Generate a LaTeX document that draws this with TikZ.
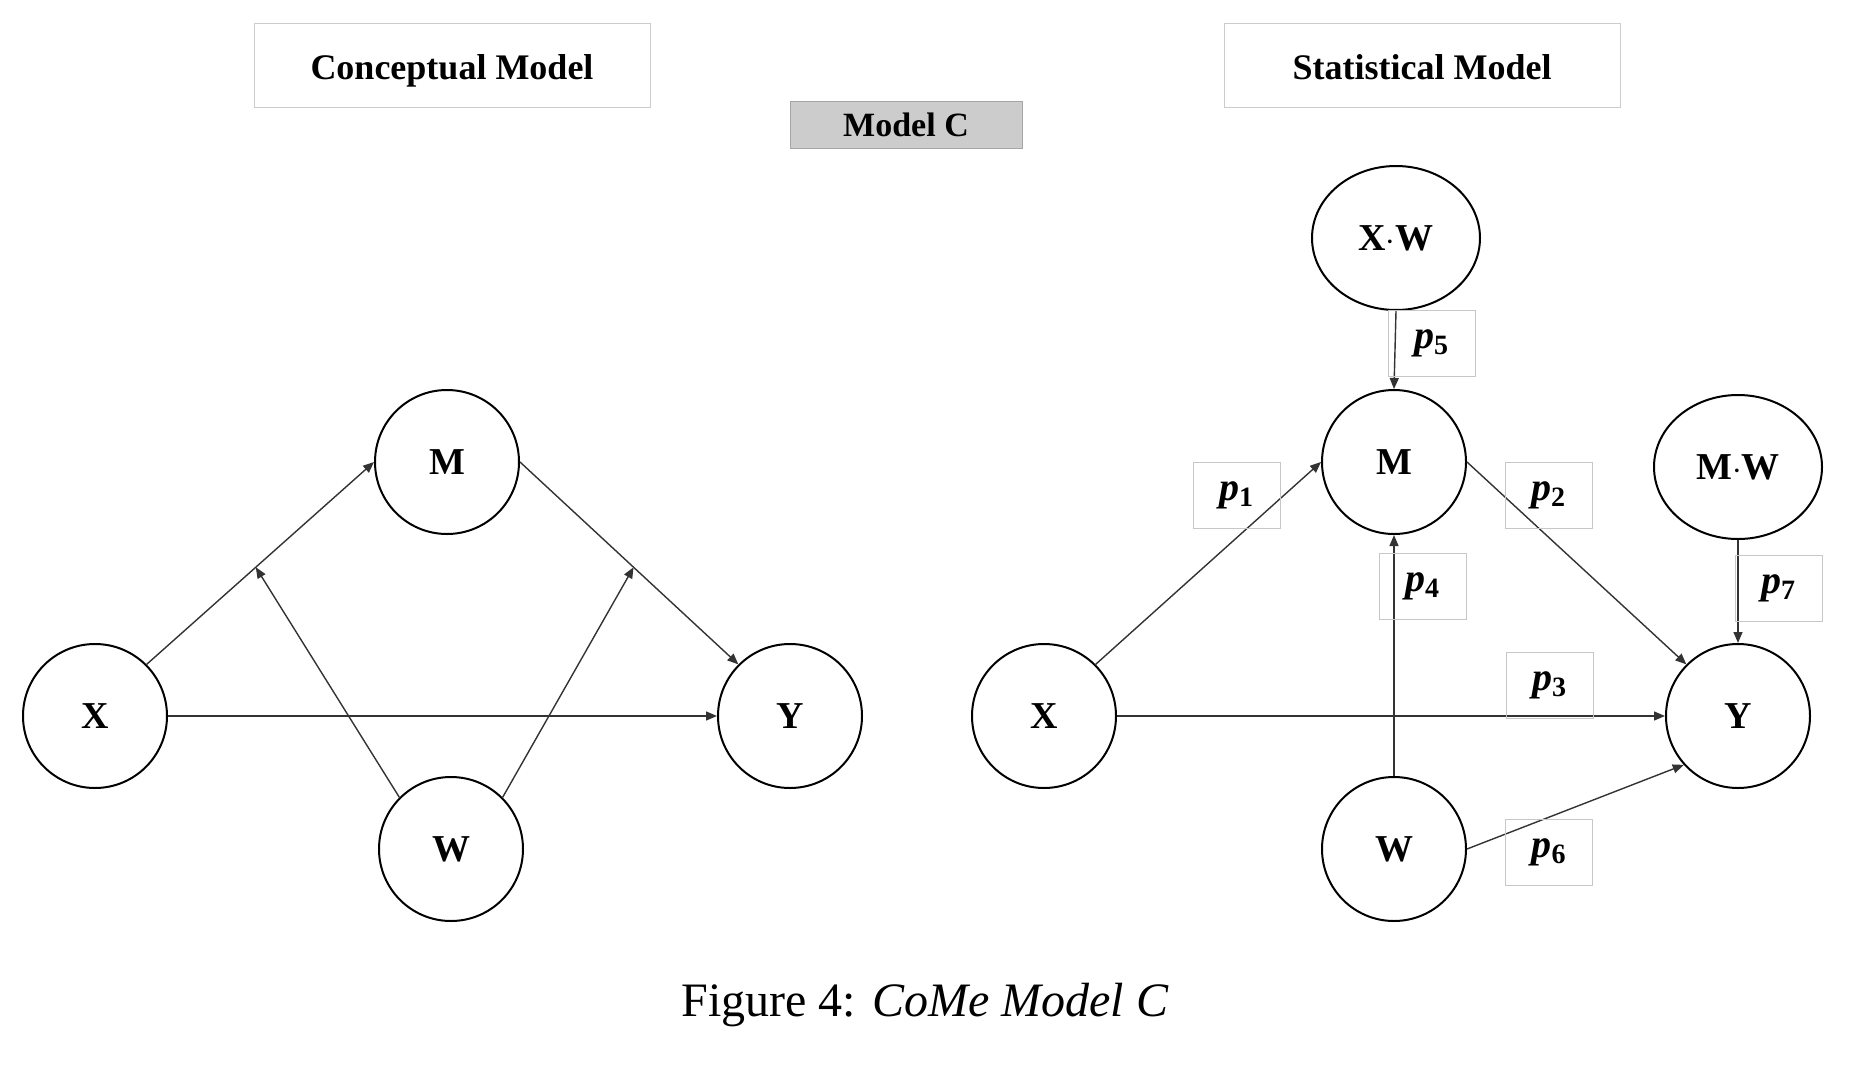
\documentclass[tikz,border=0pt]{standalone}
\usepackage{fontspec}
\setmainfont{Liberation Serif}
\usetikzlibrary{positioning,shapes.geometric,arrows.meta}

\newcommand{\pc}[1]{p\textsubscript{\upshape #1}}

\tikzset{
  var/.style={circle, draw, line width=1pt, fill=white, minimum size=72pt, inner sep=0pt,
    font=\fontsize{19}{21}\selectfont\bfseries},
  prod/.style={ellipse, draw, line width=1pt, fill=white, minimum width=84pt, minimum height=72pt,
    inner sep=0pt, font=\fontsize{19}{21}\selectfont\bfseries},
  effect/.style={-{Triangle[length=5.5pt,width=4.5pt]}, draw=black!80, line width=0.7pt},
  coef/.style={draw=black!22, line width=0.4pt, minimum width=43.5pt, minimum height=33pt,
    inner sep=0pt, font=\fontsize{20}{22}\selectfont\bfseries\itshape},
  headbox/.style={draw=black!20, line width=0.5pt, minimum width=198pt, minimum height=42pt,
    inner sep=0pt, text height=16pt, text depth=2pt, font=\fontsize{18}{20}\selectfont\bfseries}
}

\begin{document}
\begin{tikzpicture}[x=0.5pt, y=-0.5pt]
  \useasboundingbox (0,0) rectangle (1870,1066);

  % headings
  \node [headbox] (conhead) at (452,65) {Conceptual Model};
  \node [headbox] (stathead) at (1422,65) {Statistical Model};
  \node [headbox, fill=black!20, draw=black!35, minimum width=116pt, minimum height=23.5pt,
    text height=13.5pt, font=\fontsize{17}{19}\selectfont\bfseries] (modelc) at (906,124.5) {Model C};

  % conceptual model
  \node [var] (cx) at (95,716) {X};
  \node [var] (cm) at (447,462) {M};
  \node [var] (cy) at (790,716) {Y};
  \node [var] (cw) at (451,849) {W};

  \draw [effect] (cx.45) -- coordinate[pos=0.48] (cxm) (cm.west);
  \draw [effect] (cm.east) -- coordinate[pos=0.52] (cmy) (cy.135);
  \draw [effect] (cx.east) -- (cy.west);
  \draw [effect] (cw.135) -- (cxm);
  \draw [effect] (cw.45) -- (cmy);

  % statistical model
  \node [var] (sx) at (1044,716) {X};
  \node [var] (sm) at (1394,462) {M};
  \node [var] (sy) at (1738,716) {Y};
  \node [var] (sw) at (1394,849) {W};
  \node [prod] (sxw) at (1396,238) {X$\cdot$W};
  \node [prod] (smw) at (1738,467) {M$\cdot$W};

  \draw [effect] (sx.45) -- (sm.west);
  \draw [effect] (sm.east) -- (sy.135);
  \draw [effect] (sx.east) -- (sy.west);
  \draw [effect] (sw.north) -- (sm.south);
  \draw [effect] (sxw.south) -- (sm.north);
  \draw [effect] (sw.east) -- (sy.222);
  \draw [effect] (smw.south) -- (sy.north);

  \node [coef] (p1) at (1236.5,495.5) {\pc{1}};
  \node [coef] (p2) at (1548.5,495) {\pc{2}};
  \node [coef] (p3) at (1549.5,685.5) {\pc{3}};
  \node [coef] (p4) at (1422.5,586.5) {\pc{4}};
  \node [coef] (p5) at (1431.5,343.5) {\pc{5}};
  \node [coef] (p6) at (1549,852.5) {\pc{6}};
  \node [coef] (p7) at (1778.5,588.5) {\pc{7}};

  % caption
  \node [font=\fontsize{24}{26}\selectfont] (caption) at (925,1005) {Figure 4: \textit{CoMe Model C}};
\end{tikzpicture}
\end{document}
